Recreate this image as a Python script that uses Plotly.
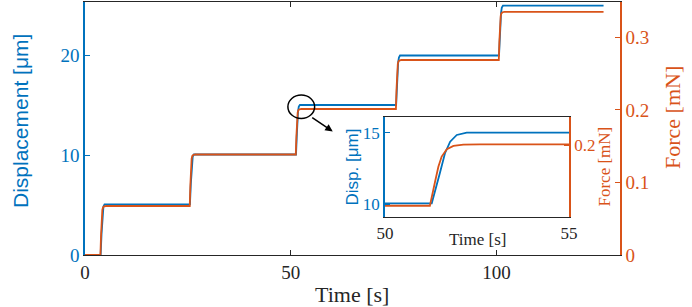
import plotly.graph_objects as go

# ---- data ----
time_disp = [0, 3.8, 4.02, 4.16, 4.30, 4.48, 4.75,
             25.5, 25.72, 25.86, 26.0, 26.18, 26.45,
             51.27, 51.49, 51.63, 51.77, 51.95, 52.22,
             75.6, 75.82, 75.96, 76.1, 76.28, 76.55,
             100.6, 100.82, 100.96, 101.1, 101.28, 101.55, 126.0]
displacement = [0, 0, 2.1, 3.4, 4.3, 4.85, 5.07,
                5.07, 7.15, 8.5, 9.35, 9.85, 10.05,
                10.05, 12.16, 13.56, 14.37, 14.84, 15.0,
                15.0, 17.1, 18.5, 19.3, 19.75, 19.95,
                19.95, 22.05, 23.45, 24.25, 24.75, 24.93, 24.93]

time_force = [0, 3.75, 3.89, 3.98, 4.07, 4.21, 4.39, 4.66, 5.11,
              25.45, 25.59, 25.68, 25.77, 25.91, 26.09, 26.36, 26.81,
              51.22, 51.36, 51.45, 51.54, 51.68, 51.86, 52.13, 52.58,
              75.55, 75.69, 75.78, 75.87, 76.01, 76.19, 76.46, 76.91,
              100.55, 100.69, 100.78, 100.87, 101.01, 101.19, 101.46, 101.91, 126.0]
force = [0, 0, 0.0263, 0.0429, 0.0540, 0.0621, 0.0657, 0.0671, 0.0675,
         0.0675, 0.0952, 0.1126, 0.1243, 0.1328, 0.1367, 0.1381, 0.1385,
         0.1385, 0.1630, 0.1783, 0.1887, 0.1962, 0.1996, 0.2008, 0.2012,
         0.2012, 0.2275, 0.2441, 0.2552, 0.2633, 0.2669, 0.2683, 0.2687,
         0.2687, 0.2945, 0.3107, 0.3217, 0.3296, 0.3331, 0.3345, 0.3349, 0.3349]

x_ticks = [0, 50, 100]
disp_ticks = [0, 10, 20]
force_ticks = [0, 0.1, 0.2, 0.3]
force_ticktext = ["0", "0.1", "0.2", "0.3"]
inset_x_ticks = [50, 55]
inset_disp_ticks = [10, 15]
inset_force_ticks = [0.2]

BLUE = "#0072BD"
ORANGE = "#D95319"
DARK = "#262626"
SERIF = "Liberation Serif"
SANS = "Liberation Sans"

W, H = 692, 307
L, R, T, B = 85, 72, 2, 52
PW, PH = W - L - R, H - T - B


def px(x):
    return (x - L) / PW


def py(y):
    return (H - B - y) / PH


fig = go.Figure()
# main
fig.add_trace(go.Scatter(x=time_disp, y=displacement, mode="lines",
                         line=dict(color=BLUE, width=1.8), xaxis="x", yaxis="y"))
fig.add_trace(go.Scatter(x=time_force, y=force, mode="lines",
                         line=dict(color=ORANGE, width=1.8), xaxis="x", yaxis="y2"))
# inset
fig.add_trace(go.Scatter(x=time_disp, y=displacement, mode="lines",
                         line=dict(color=BLUE, width=1.8, simplify=False), xaxis="x2", yaxis="y3"))
fig.add_trace(go.Scatter(x=time_force, y=force, mode="lines",
                         line=dict(color=ORANGE, width=1.8, simplify=False), xaxis="x2", yaxis="y4"))

common = dict(showgrid=False, zeroline=False, showline=True, ticks="inside", ticklen=5)

fig.update_layout(
    width=W, height=H, showlegend=False,
    margin=dict(l=L, r=R, t=T, b=B),
    paper_bgcolor="white", plot_bgcolor="white",
    xaxis=dict(domain=[0, 1], range=[0, 130], tickvals=x_ticks, anchor="y",
               linecolor=DARK, linewidth=1.2, tickcolor=DARK, mirror="ticks",
               tickfont=dict(family=SERIF, size=19, color=DARK), **common),
    yaxis=dict(domain=[0, 1], range=[0, 25.3], tickvals=disp_ticks, anchor="x",
               linecolor=BLUE, linewidth=1.5, tickcolor=BLUE,
               tickfont=dict(family=SERIF, size=19, color=BLUE), **common),
    yaxis2=dict(overlaying="y", side="right", range=[0, 0.3486], anchor="x",
                tickvals=force_ticks, ticktext=force_ticktext,
                linecolor=ORANGE, linewidth=1.5, tickcolor=ORANGE,
                tickfont=dict(family=SERIF, size=19, color=ORANGE), **common),
    xaxis2=dict(domain=[px(385), px(569)], range=[50, 55], tickvals=inset_x_ticks, anchor="y3",
                linecolor=DARK, linewidth=1.2, tickcolor=DARK, mirror="ticks",
                tickfont=dict(family=SERIF, size=17, color=DARK), **common),
    yaxis3=dict(domain=[py(217.3), py(117.3)], range=[9.067, 16.08], tickvals=inset_disp_ticks,
                anchor="x2", linecolor=BLUE, linewidth=1.5, tickcolor=BLUE,
                tickfont=dict(family=SERIF, size=17, color=BLUE), **common),
    yaxis4=dict(overlaying="y3", side="right", range=[0.1267, 0.2288], anchor="x2",
                tickvals=inset_force_ticks, ticktext=["0.2"],
                linecolor=ORANGE, linewidth=1.5, tickcolor=ORANGE,
                tickfont=dict(family=SERIF, size=17, color=ORANGE), **common),
)

annotations = [
    dict(text="Displacement [μm]", x=px(21), y=py(121), textangle=-90,
         font=dict(family=SANS, size=21, color=BLUE)),
    dict(text="Force [mN]", x=px(672), y=py(118), textangle=-90,
         font=dict(family=SERIF, size=22, color=ORANGE)),
    dict(text="Time [s]", x=px(352), y=py(294),
         font=dict(family=SERIF, size=22, color=DARK)),
    dict(text="Disp. [μm]", x=px(352), y=py(167.5), textangle=-90,
         font=dict(family=SANS, size=17, color=BLUE)),
    dict(text="Force [mN]", x=px(604), y=py(166.5), textangle=-90,
         font=dict(family=SERIF, size=17, color=ORANGE)),
    dict(text="Time [s]", x=px(477), y=py(239),
         font=dict(family=SERIF, size=17, color=DARK)),
]
for a in annotations:
    fig.add_annotation(xref="paper", yref="paper", showarrow=False,
                       xanchor="center", yanchor="middle", **a)

# arrow from circle to inset
fig.add_annotation(x=60.2, y=12.35, xref="x", yref="y", ax=-22, ay=-15,
                   text="", showarrow=True, arrowhead=2, arrowsize=1,
                   arrowwidth=1.5, arrowcolor="black")

# circle marking the zoomed region
fig.add_shape(type="circle", xref="x", yref="y", x0=49.3, x1=55.8, y0=13.65, y1=16.0,
              line=dict(color="black", width=1.5))

fig.write_html("out.html", config={"displayModeBar": False},
               post_script=["document.body.style.margin='0';document.body.style.overflow='hidden';"])
